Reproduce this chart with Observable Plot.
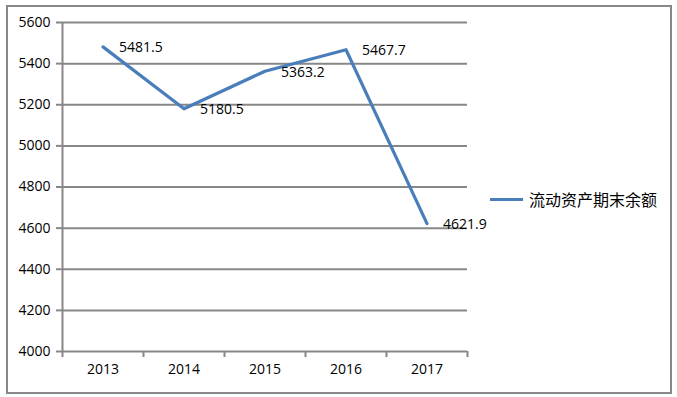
<!DOCTYPE html>
<html>
<head>
<meta charset="utf-8">
<script src="https://cdn.jsdelivr.net/npm/d3@7"></script>
<script src="https://cdn.jsdelivr.net/npm/@observablehq/plot@0.6"></script>
<style>
  html, body { margin: 0; padding: 0; background: #fff; }
  #wrap { position: relative; width: 677px; height: 397px; overflow: hidden; }
  #border { position: absolute; left: 6px; top: 5px; width: 662px; height: 385px; border: 2px solid #878787; }
  #chart { position: absolute; left: 0; top: 0; }
  #legend { position: absolute; left: 490px; top: 187px; display: flex; align-items: center;
    font-family: "Noto Sans CJK SC", sans-serif; font-size: 16px; color: #000; }
  #legend .swatch { width: 33px; height: 3px; background: #4A7EBB; margin-right: 6px; }
</style>
</head>
<body>
<div id="wrap">
  <div id="border"></div>
  <div id="chart"></div>
  <div id="legend"><span class="swatch"></span><span id="legendText"></span></div>
</div>
<script>
const years = [2013, 2014, 2015, 2016, 2017];
const values = [5481.5, 5180.5, 5363.2, 5467.7, 4621.9];
const yTicks = [4000, 4200, 4400, 4600, 4800, 5000, 5200, 5400, 5600];
const seriesName = "流动资产期末余额";

const data = years.map((y, i) => ({year: y, value: values[i]}));
const bandEdges = [years[0] - 0.5, ...years.map(y => y + 0.5)];

const gray = "#878787";
const font = "Open Sans, sans-serif";

const chart = Plot.plot({
  width: 677,
  height: 397,
  marginLeft: 62,
  marginRight: 210,
  marginTop: 22,
  marginBottom: 46,
  style: {fontFamily: font, fontSize: "14px", color: "#000", background: "transparent"},
  x: {type: "linear", domain: [bandEdges[0], bandEdges[bandEdges.length - 1]]},
  y: {domain: [yTicks[0], yTicks[yTicks.length - 1]]},
  marks: [
    Plot.gridY(yTicks, {stroke: gray, strokeOpacity: 1, strokeWidth: 2}),
    Plot.ruleX([bandEdges[0]], {stroke: gray, strokeWidth: 2}),
    Plot.axisY({ticks: yTicks, tickSize: 6, tickPadding: 6, tickFormat: d => String(d), stroke: gray, strokeWidth: 2, label: null, fill: "#000", fontSize: 14}),
    Plot.axisX({ticks: bandEdges, tickSize: 6, tickFormat: () => "", stroke: gray, strokeWidth: 2, label: null}),
    Plot.axisX({ticks: years, tickSize: 0, tickPadding: 13, tickFormat: d => String(d), label: null, fill: "#000", fontSize: 14}),
    Plot.line(data, {x: "year", y: "value", stroke: "#4A7EBB", strokeWidth: 3.2}),
    Plot.text(data, {x: "year", y: "value", text: d => d.value.toFixed(1), textAnchor: "start", dx: 16, dy: 1, fill: "#000", fontSize: 14})
  ]
});
document.getElementById("chart").appendChild(chart);
document.getElementById("legendText").textContent = seriesName;
</script>
</body>
</html>
